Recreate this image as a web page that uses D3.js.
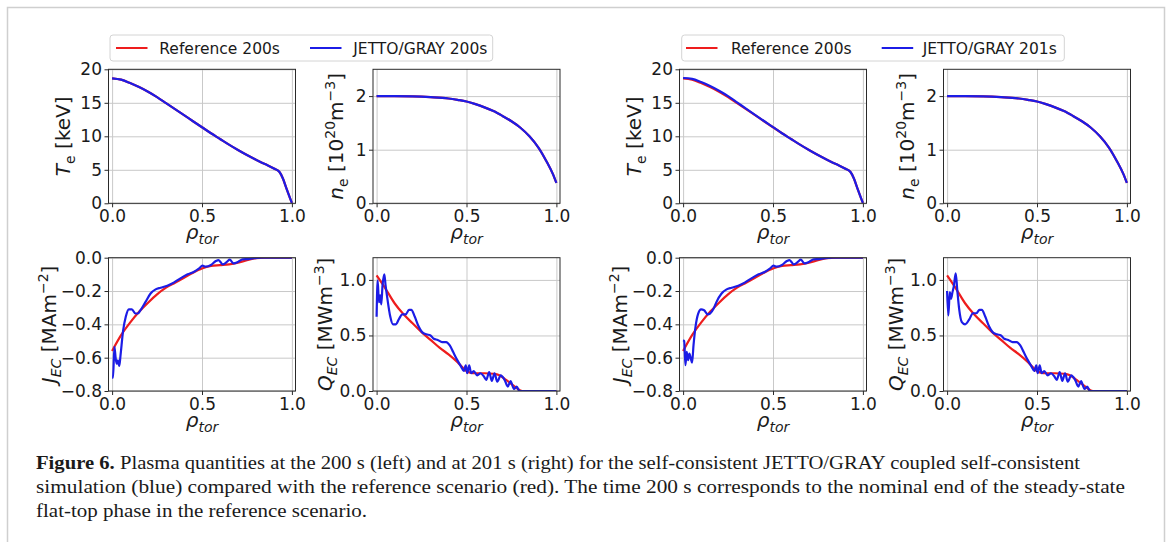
<!DOCTYPE html>
<html>
<head>
<meta charset="utf-8">
<script src="https://cdn.jsdelivr.net/npm/d3@7"></script>
<style>
  body { margin: 0; background: #fff; }
  svg { display: block; }
  text { font-family: "DejaVu Sans", sans-serif; fill: #1a1a1a; }
  .caption text { font-family: "Liberation Serif", "DejaVu Serif", serif; }
</style>
</head>
<body>
<svg id="fig" width="1167" height="542"></svg>
<script>
// ---------- data ----------
const rhoTicks = [0, 0.5, 1.0];

// electron temperature [keV]
const rhoTe   = [0, 0.05, 0.1, 0.15, 0.2, 0.25, 0.3, 0.35, 0.4, 0.45, 0.5, 0.55, 0.6, 0.65, 0.7, 0.75, 0.8, 0.85, 0.9, 0.93, 0.95, 0.97, 0.99, 1.0];
const teRef   = [18.65, 18.45, 17.95, 17.35, 16.65, 15.85, 14.95, 14.05, 13.15, 12.25, 11.35, 10.45, 9.6, 8.75, 7.95, 7.2, 6.5, 5.85, 5.2, 4.7, 3.7, 2.2, 0.75, 0.05];
const teJg200 = [18.65, 18.45, 17.95, 17.35, 16.65, 15.85, 14.95, 14.05, 13.15, 12.25, 11.35, 10.45, 9.6, 8.75, 7.95, 7.2, 6.5, 5.85, 5.2, 4.7, 3.7, 2.2, 0.75, 0.05];
const teJg201 = [18.7, 18.58, 18.1, 17.5, 16.8, 16.0, 15.07, 14.13, 13.2, 12.28, 11.37, 10.46, 9.6, 8.75, 7.95, 7.2, 6.5, 5.85, 5.2, 4.7, 3.7, 2.2, 0.75, 0.05];
const teTicks = [0, 5, 10, 15, 20];

// electron density [1e20 m^-3]
const rhoNe   = [0, 0.1, 0.2, 0.3, 0.4, 0.45, 0.5, 0.55, 0.6, 0.65, 0.7, 0.75, 0.8, 0.85, 0.9, 0.95, 0.98, 1.0];
const neRef   = [2.0, 2.0, 1.995, 1.98, 1.955, 1.93, 1.9, 1.85, 1.79, 1.72, 1.63, 1.53, 1.41, 1.25, 1.04, 0.75, 0.55, 0.38];
const neJg200 = [2.0, 2.0, 1.995, 1.98, 1.955, 1.93, 1.9, 1.85, 1.79, 1.72, 1.63, 1.53, 1.41, 1.25, 1.04, 0.75, 0.55, 0.38];
const neJg201 = [2.0, 2.0, 1.995, 1.98, 1.955, 1.93, 1.9, 1.85, 1.79, 1.72, 1.63, 1.53, 1.41, 1.25, 1.04, 0.75, 0.55, 0.38];
const neTicks = [0, 1, 2];

// EC driven current density [MA m^-2]
const rhoJRef = [0, 0.05, 0.1, 0.15, 0.2, 0.25, 0.3, 0.35, 0.4, 0.45, 0.5, 0.55, 0.6, 0.65, 0.7, 0.75, 0.8, 0.85, 1.0];
const jRef    = [-0.56, -0.465, -0.39, -0.325, -0.27, -0.22, -0.18, -0.15, -0.12, -0.09, -0.065, -0.05, -0.045, -0.04, -0.03, -0.015, -0.003, 0, 0];
const rhoJ200 = [0, 0.005, 0.013, 0.02, 0.026, 0.032, 0.04, 0.047, 0.061, 0.076, 0.093, 0.11, 0.13, 0.143, 0.158, 0.186, 0.214, 0.242, 0.27, 0.307, 0.345, 0.38, 0.42, 0.456, 0.484, 0.503, 0.52, 0.55, 0.577, 0.592, 0.615, 0.64, 0.654, 0.676, 0.702, 0.726, 0.754, 0.79, 0.83, 1.0];
const j200    = [-0.72, -0.72, -0.535, -0.605, -0.636, -0.616, -0.65, -0.585, -0.44, -0.355, -0.31, -0.31, -0.335, -0.335, -0.315, -0.265, -0.215, -0.19, -0.18, -0.168, -0.148, -0.124, -0.1, -0.084, -0.064, -0.048, -0.054, -0.044, -0.02, -0.014, -0.04, -0.024, -0.012, -0.034, -0.024, -0.01, -0.008, -0.002, 0, 0];
const rhoJ201 = [0, 0.006, 0.013, 0.02, 0.028, 0.035, 0.043, 0.05, 0.058, 0.069, 0.084, 0.1, 0.117, 0.136, 0.15, 0.17, 0.186, 0.214, 0.242, 0.27, 0.307, 0.345, 0.38, 0.42, 0.456, 0.484, 0.503, 0.52, 0.55, 0.577, 0.592, 0.615, 0.64, 0.654, 0.676, 0.702, 0.726, 0.754, 0.79, 0.83, 1.0];
const j201    = [-0.495, -0.5, -0.645, -0.565, -0.615, -0.575, -0.605, -0.63, -0.525, -0.415, -0.335, -0.31, -0.315, -0.34, -0.335, -0.305, -0.265, -0.215, -0.19, -0.18, -0.168, -0.148, -0.124, -0.1, -0.084, -0.064, -0.048, -0.054, -0.044, -0.02, -0.014, -0.04, -0.024, -0.012, -0.034, -0.024, -0.01, -0.008, -0.002, 0, 0];
const jTicks  = [-0.8, -0.6, -0.4, -0.2, 0.0];

// EC power density [MW m^-3]
const rhoQRef = [0, 0.05, 0.1, 0.15, 0.2, 0.25, 0.3, 0.35, 0.4, 0.45, 0.5, 0.52, 0.55, 0.6, 0.65, 0.68, 0.72, 0.76, 0.8, 0.82, 1.0];
const qRef    = [1.04, 0.92, 0.79, 0.69, 0.61, 0.53, 0.46, 0.39, 0.33, 0.26, 0.18, 0.165, 0.16, 0.16, 0.155, 0.145, 0.10, 0.05, 0.005, 0, 0];
const rhoQ200 = [0, 0.006, 0.013, 0.02, 0.026, 0.033, 0.043, 0.05, 0.061, 0.076, 0.091, 0.106, 0.125, 0.143, 0.162, 0.18, 0.193, 0.212, 0.234, 0.253, 0.277, 0.3, 0.318, 0.34, 0.364, 0.387, 0.407, 0.426, 0.448, 0.47, 0.485, 0.496, 0.504, 0.515, 0.526, 0.54, 0.56, 0.578, 0.597, 0.61, 0.626, 0.641, 0.656, 0.671, 0.69, 0.712, 0.73, 0.745, 0.764, 0.779, 0.794, 0.81, 1.0];
const q200    = [0.668, 0.997, 0.80, 0.86, 0.78, 0.95, 1.05, 0.95, 0.82, 0.67, 0.60, 0.60, 0.65, 0.69, 0.69, 0.73, 0.73, 0.67, 0.58, 0.53, 0.51, 0.50, 0.47, 0.46, 0.44, 0.44, 0.41, 0.35, 0.28, 0.22, 0.18, 0.23, 0.16, 0.23, 0.16, 0.18, 0.14, 0.16, 0.13, 0.10, 0.17, 0.09, 0.16, 0.084, 0.14, 0.10, 0.04, 0.09, 0.018, 0.04, 0.0, 0, 0];
const rhoQ201 = [0, 0.007, 0.015, 0.022, 0.03, 0.037, 0.048, 0.056, 0.067, 0.082, 0.1, 0.125, 0.143, 0.162, 0.18, 0.193, 0.212, 0.234, 0.253, 0.277, 0.3, 0.318, 0.34, 0.364, 0.387, 0.407, 0.426, 0.448, 0.47, 0.485, 0.496, 0.504, 0.515, 0.526, 0.54, 0.56, 0.578, 0.597, 0.61, 0.626, 0.641, 0.656, 0.671, 0.69, 0.712, 0.73, 0.745, 0.764, 0.779, 0.794, 0.81, 1.0];
const q201    = [0.90, 0.68, 0.89, 0.83, 0.89, 0.94, 1.06, 0.92, 0.74, 0.62, 0.60, 0.65, 0.70, 0.70, 0.73, 0.73, 0.67, 0.58, 0.53, 0.51, 0.50, 0.47, 0.46, 0.44, 0.44, 0.41, 0.35, 0.28, 0.22, 0.18, 0.23, 0.16, 0.23, 0.16, 0.18, 0.14, 0.16, 0.13, 0.10, 0.17, 0.09, 0.16, 0.084, 0.14, 0.10, 0.04, 0.09, 0.018, 0.04, 0.0, 0, 0];
const qTicks  = [0.0, 0.5, 1.0];

const legendLabels = [["Reference 200s", "JETTO/GRAY 200s"], ["Reference 200s", "JETTO/GRAY 201s"]];
const captionLines = [
  "Plasma quantities at the 200 s (left) and at 201 s (right) for the self-consistent JETTO/GRAY coupled self-consistent",
  "simulation (blue) compared with the reference scenario (red). The time 200 s corresponds to the nominal end of the steady-state",
  "flat-top phase in the reference scenario."
];

// ---------- layout ----------
const RED = "#ee1d1d", BLUE = "#1c1ce6";
const colLeft = [108.5, 373, 679.5, 943.5];
const colW = 187;
const rowTop = [69.3, 257.7];
const rowH = [134, 133.3];
const xDomain = [-0.02, 1.02];

const minus = s => s.replace("-", "\u2212");

const ylabels = {
  te: [{t: "T", it: true}, {t: "e", sub: true}, {t: " [keV]"}],
  ne: [{t: "n", it: true}, {t: "e", sub: true}, {t: " [10"}, {t: "20", sup: true}, {t: "m"}, {t: "\u22123", sup: true}, {t: "]"}],
  j:  [{t: "J", it: true}, {t: "EC", sub: true, it: true}, {t: " [MAm"}, {t: "\u22122", sup: true}, {t: "]"}],
  q:  [{t: "Q", it: true}, {t: "EC", sub: true, it: true}, {t: " [MWm"}, {t: "\u22123", sup: true}, {t: "]"}]
};

const panels = [
  {col: 0, row: 0, yl: "te", off: 39, yDom: [0, 20], ticks: teTicks, fmt: d3.format("d"), ref: [rhoTe, teRef], sim: [rhoTe, teJg200]},
  {col: 1, row: 0, yl: "ne", off: 30, yDom: [0, 2.5], ticks: neTicks, fmt: d3.format("d"), ref: [rhoNe, neRef], sim: [rhoNe, neJg200]},
  {col: 0, row: 1, yl: "j",  off: 53, yDom: [-0.8, 0], ticks: jTicks, fmt: d3.format(".1f"), ref: [rhoJRef, jRef], sim: [rhoJ200, j200]},
  {col: 1, row: 1, yl: "q",  off: 41, yDom: [0, 1.2], ticks: qTicks, fmt: d3.format(".1f"), ref: [rhoQRef, qRef], sim: [rhoQ200, q200]},
  {col: 2, row: 0, yl: "te", off: 39, yDom: [0, 20], ticks: teTicks, fmt: d3.format("d"), ref: [rhoTe, teRef], sim: [rhoTe, teJg201]},
  {col: 3, row: 0, yl: "ne", off: 30, yDom: [0, 2.5], ticks: neTicks, fmt: d3.format("d"), ref: [rhoNe, neRef], sim: [rhoNe, neJg201]},
  {col: 2, row: 1, yl: "j",  off: 53, yDom: [-0.8, 0], ticks: jTicks, fmt: d3.format(".1f"), ref: [rhoJRef, jRef], sim: [rhoJ201, j201]},
  {col: 3, row: 1, yl: "q",  off: 41, yDom: [0, 1.2], ticks: qTicks, fmt: d3.format(".1f"), ref: [rhoQRef, qRef], sim: [rhoQ201, q201]}
];

const svg = d3.select("#fig");

// page frame
svg.append("path")
  .attr("d", "M7.5,542 V7.5 H1164.5 V542")
  .attr("fill", "none").attr("stroke", "#cfcfcf").attr("stroke-width", 1.5);

// text made of plain, italic, subscript and superscript pieces
function addRich(textSel, parts, base, small) {
  parts.forEach(p => {
    const ts = textSel.append("tspan").text(p.t)
      .style("font-size", (p.sub || p.sup) ? small + "px" : base + "px");
    if (p.it) ts.style("font-style", "italic");
    ts.datum(p);
  });
  const nodes = textSel.selectAll("tspan").nodes();
  nodes.forEach((n, i) => {
    const cur = d3.select(n).datum();
    let dy = 0;
    if (i > 0) {
      const prev = d3.select(nodes[i - 1]).datum();
      if (prev.sub) dy -= 5;
      if (prev.sup) dy += 8;
    }
    if (cur.sub) dy += 5;
    if (cur.sup) dy -= 8;
    d3.select(n).attr("dy", dy || null);
  });
}

panels.forEach(p => {
  const W = colW, H = rowH[p.row];
  const g = svg.append("g").attr("transform", `translate(${colLeft[p.col]},${rowTop[p.row]})`);
  const x = d3.scaleLinear().domain(xDomain).range([0, W]);
  const y = d3.scaleLinear().domain(p.yDom).range([H, 0]);

  // grid
  const gx = g.append("g").call(d3.axisBottom(x).tickValues(rhoTicks).tickSize(H).tickFormat(""));
  const gy = g.append("g").call(d3.axisLeft(y).tickValues(p.ticks).tickSize(-W).tickFormat(""));
  [gx, gy].forEach(a => {
    a.select(".domain").remove();
    a.selectAll("line").attr("stroke", "#c9c9c9").attr("stroke-width", 1);
  });

  // curves
  const clipId = `clip-${p.col}-${p.row}`;
  g.append("clipPath").attr("id", clipId).append("rect").attr("width", W).attr("height", H);
  const line = d3.line().x(d => x(d[0])).y(d => y(d[1])).curve(d3.curveMonotoneX);
  const zipped = ([xs, ys]) => xs.map((v, i) => [v, ys[i]]);
  const plot = g.append("g").attr("clip-path", `url(#${clipId})`);
  plot.append("path").datum(zipped(p.ref)).attr("d", line)
    .attr("fill", "none").attr("stroke", RED).attr("stroke-width", 2.2);
  plot.append("path").datum(zipped(p.sim)).attr("d", line)
    .attr("fill", "none").attr("stroke", BLUE).attr("stroke-width", 2.2).attr("stroke-linejoin", "round");

  // frame
  g.append("rect").attr("width", W).attr("height", H)
    .attr("fill", "none").attr("stroke", "#2a2a2a").attr("stroke-width", 1);

  // axes
  const ax = g.append("g").attr("transform", `translate(0,${H})`)
    .call(d3.axisBottom(x).tickValues(rhoTicks).tickSize(4).tickPadding(3).tickFormat(d3.format(".1f")));
  const ay = g.append("g")
    .call(d3.axisLeft(y).tickValues(p.ticks).tickSize(4).tickPadding(2.5).tickFormat(d => minus(p.fmt(d))));
  [ax, ay].forEach(a => {
    a.select(".domain").remove();
    a.selectAll("line").attr("stroke", "#2a2a2a");
    a.selectAll("text").style("font-size", "17px").style("font-family", "DejaVu Sans").attr("fill", "#1a1a1a");
  });

  // x label
  const xl = g.append("text").attr("x", W / 2).attr("y", H + 36).attr("text-anchor", "middle");
  addRich(xl, [{t: "\u03c1", it: true}, {t: "tor", sub: true, it: true}], 20, 14);

  // y label
  const yl = g.append("text")
    .attr("transform", `translate(${-p.off},${H / 2}) rotate(-90)`)
    .attr("text-anchor", "middle");
  addRich(yl, ylabels[p.yl], 20, 14);
});

// legends
const legendSpec = [
  {x0: 110, x1: 492.7, h1: 116, t1: 159.3, h2: 310, t2: 353.3},
  {x0: 681.7, x1: 1064.3, h1: 686, t1: 731, h2: 881.7, t2: 922.7}
];
legendSpec.forEach((L, i) => {
  const g = svg.append("g");
  g.append("rect").attr("x", L.x0).attr("y", 35).attr("width", L.x1 - L.x0).attr("height", 26)
    .attr("rx", 3).attr("fill", "#fff").attr("stroke", "#d4d4d4").attr("stroke-width", 1);
  [[L.h1, L.t1, RED, legendLabels[i][0]], [L.h2, L.t2, BLUE, legendLabels[i][1]]].forEach(([hx, tx, c, label]) => {
    g.append("line").attr("x1", hx).attr("x2", hx + 31.5).attr("y1", 48).attr("y2", 48)
      .attr("stroke", c).attr("stroke-width", 2);
    g.append("text").attr("x", tx).attr("y", 53.5).style("font-size", "15.5px").text(label);
  });
});

// caption
const cap = svg.append("g").attr("class", "caption");
const capY = [469, 493, 517];
const capEnd = [1080, 1125, 367];
captionLines.forEach((ln, i) => {
  const t = cap.append("text").attr("x", 36).attr("y", capY[i]).style("font-size", "19px")
    .attr("textLength", capEnd[i] - 36).attr("lengthAdjust", "spacingAndGlyphs");
  if (i === 0) {
    t.append("tspan").style("font-weight", "bold").text("Figure 6.");
    t.append("tspan").text(" " + ln);
  } else {
    t.text(ln);
  }
});
</script>
</body>
</html>
